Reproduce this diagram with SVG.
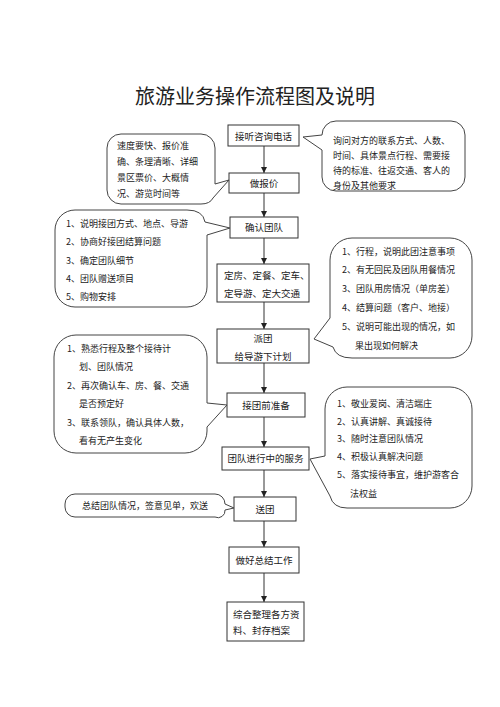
<svg xmlns="http://www.w3.org/2000/svg" width="500" height="707" viewBox="0 0 500 707">
<style>
text{font-family:"Noto Sans CJK SC","Noto Sans",sans-serif;fill:#222;}
.t{font-size:20px;}
.b{font-size:9.5px;}
.c{font-size:9px;}
.mid{text-anchor:middle;}
.box{fill:#fff;stroke:#333;stroke-width:1;}
.co{fill:#fff;stroke:#444;stroke-width:1;}
.ar{stroke:#333;stroke-width:1;fill:none;marker-end:url(#ah);}
</style>
<defs>
<marker id="ah" viewBox="0 0 8 8" refX="8" refY="4" markerWidth="6" markerHeight="6" markerUnits="userSpaceOnUse" orient="auto">
<path d="M0,0 L8,4 L0,8 Z" fill="#222"/>
</marker>
</defs>
<rect width="500" height="707" fill="#fff"/>
<text class="t mid" x="255" y="104">旅游业务操作流程图及说明</text>

<g id="connectors">
<line class="ar" x1="264" y1="146" x2="264" y2="173"/>
<line class="ar" x1="264" y1="193" x2="264" y2="217"/>
<line class="ar" x1="264" y1="238" x2="264" y2="264"/>
<line class="ar" x1="264" y1="302" x2="264" y2="329"/>
<line class="ar" x1="264" y1="363" x2="264" y2="393"/>
<line class="ar" x1="264" y1="417" x2="264" y2="447"/>
<line class="ar" x1="264" y1="470" x2="264" y2="497"/>
<line class="ar" x1="264" y1="521" x2="264" y2="547"/>
<line class="ar" x1="264" y1="573" x2="264" y2="602"/>
</g>

<g id="n1"><rect class="box" x="228" y="125" width="71" height="21"/><text class="b mid" x="263.5" y="139.5">接听咨询电话</text></g>
<g id="n2"><rect class="box" x="229" y="173" width="70" height="20"/><text class="b mid" x="264" y="186.5">做报价</text></g>
<g id="n3"><rect class="box" x="230" y="217" width="68" height="21"/><text class="b mid" x="264" y="231">确认团队</text></g>
<g id="n4"><rect class="box" x="217" y="264" width="92" height="38"/><text class="b" x="224" y="278.5">定房、定餐、定车、</text><text class="b" x="224" y="296.5">定导游、定大交通</text></g>
<g id="n5"><rect class="box" x="217" y="329" width="92" height="34"/><text class="b mid" x="263" y="341.5">派团</text><text class="b mid" x="263" y="359.5">给导游下计划</text></g>
<g id="n6"><rect class="box" x="227" y="393" width="78" height="24"/><text class="b mid" x="266" y="408.5">接团前准备</text></g>
<g id="n7"><rect class="box" x="222" y="447" width="87" height="23"/><text class="b mid" x="265.5" y="462">团队进行中的服务</text></g>
<g id="n8"><rect class="box" x="234" y="497" width="62" height="24"/><text class="b mid" x="265" y="512.5">送团</text></g>
<g id="n9"><rect class="box" x="229" y="547" width="70" height="26"/><text class="b mid" x="264" y="563.5">做好总结工作</text></g>
<g id="n10"><rect class="box" x="227" y="602" width="77" height="39"/><text class="b" x="233" y="617.5">综合整理各方资</text><text class="b" x="233" y="633.5">料、封存档案</text></g>

<g id="cA">
<path class="co" d="M336,121 H451 A14 14 0 0 1 465,135 V177 A14 14 0 0 1 451,191 H336 A14 14 0 0 1 322,177 V150 L303,137 L322,135 A14 14 0 0 1 336,121 Z"/>
<text class="c" x="333" y="143.5">询问对方的联系方式、人数、</text>
<text class="c" x="333" y="158.5">时间、具体景点行程、需要接</text>
<text class="c" x="333" y="173.5">待的标准、往返交通、客人的</text>
<text class="c" x="333" y="188.5">身份及其他要求</text>
</g>
<g id="cB">
<path class="co" d="M121,134 H201 A14 14 0 0 1 215,148 V184 L229,180 L213,198 Q210,204 201,204 H121 A14 14 0 0 1 107,190 V148 A14 14 0 0 1 121,134 Z"/>
<text class="c" x="117" y="148.5">速度要快、报价准</text>
<text class="c" x="117" y="164.5">确、条理清晰、详细</text>
<text class="c" x="117" y="180.5">景区票价、大概情</text>
<text class="c" x="117" y="196.5">况、游览时间等</text>
</g>
<g id="cC">
<path class="co" d="M75,210 H187 Q203,210 205,222 L230,228 L207,235 V287 A20 20 0 0 1 187,307 H75 A20 20 0 0 1 55,287 V230 A20 20 0 0 1 75,210 Z"/>
<text class="c" x="66" y="226.5">1、说明接团方式、地点、导游</text>
<text class="c" x="66" y="245">2、协商好接团结算问题</text>
<text class="c" x="66" y="263.5">3、确定团队细节</text>
<text class="c" x="66" y="281.5">4、团队赠送项目</text>
<text class="c" x="66" y="299.5">5、购物安排</text>
</g>
<g id="cD">
<path class="co" d="M352,238 H450 A22 22 0 0 1 472,260 V336 A22 22 0 0 1 450,358 H352 Q336,358 333,347 L314,339 L330,318 V260 A22 22 0 0 1 352,238 Z"/>
<text class="c" x="342" y="254.5">1、行程，说明此团注意事项</text>
<text class="c" x="342" y="273">2、有无回民及团队用餐情况</text>
<text class="c" x="342" y="292">3、团队用房情况（单房差）</text>
<text class="c" x="342" y="311">4、结算问题（客户、地接）</text>
<text class="c" x="342" y="330">5、说明可能出现的情况，如</text>
<text class="c" x="355" y="349">果出现如何解决</text>
</g>
<g id="cE">
<path class="co" d="M76,335 H185 A22 22 0 0 1 207,357 V403 L227,405 L207,427 V431 A22 22 0 0 1 185,453 H76 A22 22 0 0 1 54,431 V357 A22 22 0 0 1 76,335 Z"/>
<text class="c" x="67" y="351.5">1、熟悉行程及整个接待计</text>
<text class="c" x="79" y="369.5">划、团队情况</text>
<text class="c" x="67" y="388.5">2、再次确认车、房、餐、交通</text>
<text class="c" x="79" y="406.5">是否预定好</text>
<text class="c" x="67" y="425.5">3、联系领队，确认具体人数，</text>
<text class="c" x="79" y="443.5">看有无产生变化</text>
</g>
<g id="cF">
<path class="co" d="M347,387 H450 A22 22 0 0 1 472,409 V486 A22 22 0 0 1 450,508 H347 Q333,508 330,496 L310,459 L325,456 V409 A22 22 0 0 1 347,387 Z"/>
<text class="c" x="337" y="406.5">1、敬业爱岗、清洁端庄</text>
<text class="c" x="337" y="424.5">2、认真讲解、真诚接待</text>
<text class="c" x="337" y="441.5">3、随时注意团队情况</text>
<text class="c" x="337" y="459.5">4、积极认真解决问题</text>
<text class="c" x="337" y="477.5">5、落实接待事宜，维护游客合</text>
<text class="c" x="350" y="496.5">法权益</text>
</g>
<g id="cG">
<path class="co" d="M75,494 H215 A10 10 0 0 1 225,504 L234,508 L225,510 A7 7 0 0 1 215,517 H75 A10 10 0 0 1 65,507 V504 A10 10 0 0 1 75,494 Z"/>
<text class="c" x="82" y="509">总结团队情况，签意见单，欢送</text>
</g>
</svg>
